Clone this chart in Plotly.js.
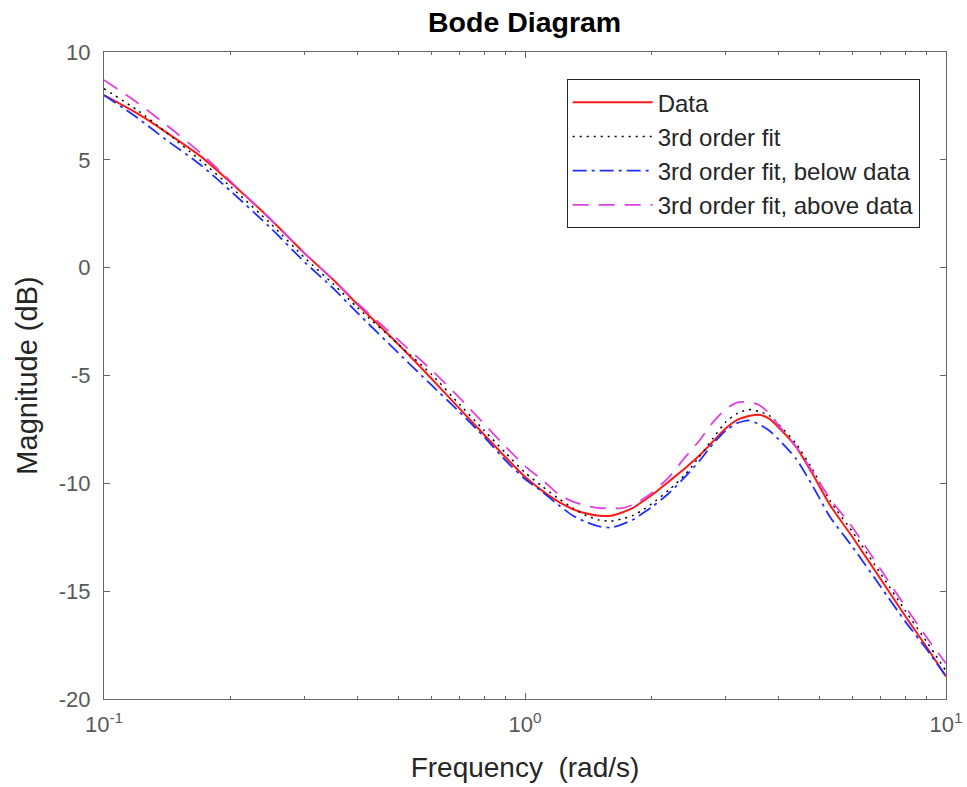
<!DOCTYPE html>
<html>
<head>
<meta charset="utf-8">
<script src="https://cdn.plot.ly/plotly-3.0.1.min.js"></script>
<style>
html, body { margin: 0; padding: 0; background: #ffffff; }
#chart { width: 967px; height: 787px; }
</style>
</head>
<body>
<div id="chart"></div>
<script>
// Frequency (rad/s)
var freq = [0.1, 0.12, 0.14, 0.17, 0.2, 0.25, 0.3, 0.35, 0.4, 0.5, 0.6, 0.7, 0.8, 0.9, 1.0, 1.1, 1.2, 1.3, 1.4, 1.5, 1.6, 1.7, 1.8, 1.9, 2.0, 2.2, 2.4, 2.6, 2.8, 3.0, 3.2, 3.4, 3.6, 3.8, 4.0, 4.4, 4.8, 5.3, 6.0, 7.0, 8.0, 9.0, 10];

// Magnitude (dB)
var magData = [8.0, 7.15, 6.3, 5.15, 3.95, 2.2, 0.65, -0.55, -1.7, -3.55, -5.15, -6.55, -7.75, -8.8, -9.7, -10.35, -10.85, -11.2, -11.4, -11.5, -11.5, -11.35, -11.15, -10.85, -10.55, -9.9, -9.3, -8.7, -8.05, -7.45, -7.05, -6.88, -6.82, -7.0, -7.4, -8.3, -9.5, -11.0, -12.5, -14.45, -16.15, -17.6, -18.95];
var magFit = [8.3, 7.3, 6.3, 4.95, 3.75, 2.0, 0.45, -0.75, -1.85, -3.55, -4.95, -6.35, -7.55, -8.6, -9.5, -10.15, -10.7, -11.15, -11.5, -11.7, -11.75, -11.65, -11.5, -11.25, -10.95, -10.3, -9.6, -8.75, -7.9, -7.15, -6.75, -6.58, -6.67, -6.85, -7.25, -8.15, -9.3, -10.8, -12.25, -14.2, -15.9, -17.35, -18.7];
var magBelow = [8.0, 6.95, 5.95, 4.75, 3.55, 1.8, 0.25, -0.95, -2.1, -3.95, -5.45, -6.7, -7.85, -8.95, -9.8, -10.4, -11.0, -11.5, -11.8, -12.0, -12.05, -11.9, -11.7, -11.4, -11.1, -10.45, -9.7, -8.95, -8.15, -7.55, -7.2, -7.08, -7.27, -7.55, -7.95, -8.85, -10.05, -11.55, -12.95, -14.8, -16.4, -17.7, -18.95];
var magAbove = [8.7, 7.65, 6.65, 5.3, 4.0, 2.2, 0.65, -0.55, -1.65, -3.35, -4.75, -6.05, -7.25, -8.3, -9.2, -9.85, -10.5, -10.85, -11.05, -11.15, -11.15, -11.15, -11.0, -10.75, -10.45, -9.7, -8.8, -8.0, -7.15, -6.55, -6.25, -6.23, -6.37, -6.75, -7.3, -8.3, -9.4, -10.7, -12.05, -14.0, -15.7, -17.15, -18.35];

var seriesNames = ["Data", "3rd order fit", "3rd order fit, below data", "3rd order fit, above data"];

var xTickVals = [0.1, 1, 10];
var xTickText = ["10<sup>-1</sup>", "10<sup>0</sup>", "10<sup>1</sup>"];
var xMinorVals = [0.2, 0.3, 0.4, 0.5, 0.6, 0.7, 0.8, 0.9, 2, 3, 4, 5, 6, 7, 8, 9];
var yTickVals = [-20, -15, -10, -5, 0, 5, 10];
var yTickText = ["-20", "-15", "-10", "-5", "0", "5", "10"];

var FONT = "Liberation Sans, Arial, Helvetica, sans-serif";

var traces = [
  { x: freq, y: magData, name: seriesNames[0], mode: "lines", line: { color: "#ff1a1a", width: 2, shape: "spline", smoothing: 0.6 }, legendgroup: "a" },
  { x: freq, y: magFit, name: seriesNames[1], mode: "lines", line: { color: "#000000", width: 1.5, dash: "2px,5px", shape: "spline", smoothing: 0.6 }, legendgroup: "b" },
  { x: freq, y: magBelow, name: seriesNames[2], mode: "lines", line: { color: "#1f2fff", width: 1.8, dash: "14px,5px,3px,5px", shape: "spline", smoothing: 0.6 }, legendgroup: "c" },
  { x: freq, y: magAbove, name: seriesNames[3], mode: "lines", line: { color: "#e040e0", width: 1.8, dash: "16px,10px", shape: "spline", smoothing: 0.6 }, legendgroup: "d" }
];

var layout = {
  width: 967, height: 787,
  margin: { l: 104, r: 21, t: 52, b: 88 },
  paper_bgcolor: "#ffffff", plot_bgcolor: "#ffffff",
  font: { family: FONT, color: "#262626" },
  title: { text: "<b>Bode Diagram</b>", font: { family: FONT, size: 28.5, color: "#000000" }, x: 0.5425, xanchor: "center", y: 0.972, yanchor: "middle" },
  showlegend: true,
  legend: {
    x: 0.5495, y: 0.958, xanchor: "left", yanchor: "top",
    bgcolor: "#ffffff", bordercolor: "#262626", borderwidth: 1,
    font: { family: FONT, size: 24, color: "#262626" },
    traceorder: "grouped", tracegroupgap: 0, itemwidth: 80
  },
  xaxis: {
    type: "log", range: [-1, 1],
    tickmode: "array", tickvals: xTickVals, ticktext: xTickText,
    ticks: "inside", ticklen: 6, tickcolor: "#666666", tickwidth: 1,
    minor: { tickmode: "array", tickvals: xMinorVals, ticks: "inside", ticklen: 3, tickcolor: "#666666", showgrid: false },
    showline: true, linecolor: "#666666", linewidth: 1, mirror: "ticks",
    showgrid: false, zeroline: false,
    tickfont: { family: FONT, size: 22, color: "#595959" },
    ticklabelstandoff: 6,
    title: { text: "Frequency  (rad/s)", font: { family: FONT, size: 28, color: "#262626" }, standoff: 20 }
  },
  yaxis: {
    range: [-20, 10],
    tickmode: "array", tickvals: yTickVals, ticktext: yTickText,
    ticks: "inside", ticklen: 6, tickcolor: "#666666", tickwidth: 1,
    showline: true, linecolor: "#666666", linewidth: 1, mirror: "ticks",
    showgrid: false, zeroline: false,
    tickfont: { family: FONT, size: 22, color: "#595959" },
    ticklabelstandoff: 8,
    title: { text: "Magnitude (dB)", font: { family: FONT, size: 29, color: "#262626" }, standoff: 12 }
  }
};

Plotly.newPlot("chart", traces, layout, { staticPlot: true, displayModeBar: false });
</script>
</body>
</html>
